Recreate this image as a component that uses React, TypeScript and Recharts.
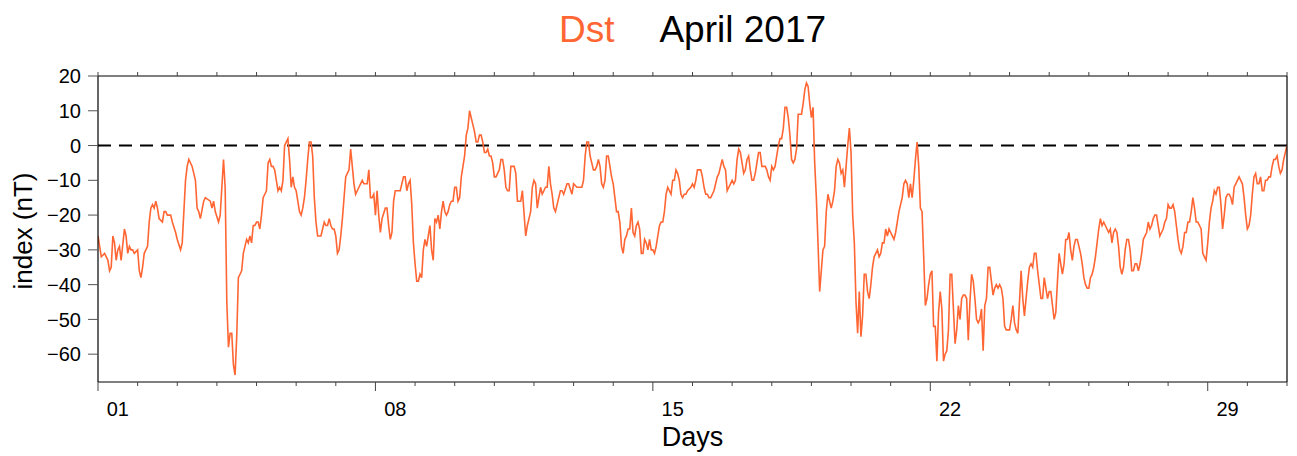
import { LineChart, Line, XAxis, YAxis, ReferenceLine } from 'recharts';

// hourly Dst index, [hours since 1 April 00 UT, nT]
const dstDays01to07: [number, number][] = [
  [0, -26], [2, -32], [4, -31], [6, -33], [7, -36], [8, -35], [9, -26], [10, -28], [11, -33], [12, -30],
  [13, -29], [14, -33], [16, -24], [17, -26], [18, -31], [19, -29], [20, -30], [21, -30], [22, -31], [24, -30],
  [25, -36], [26, -38], [27, -35], [28, -31], [30, -29], [31, -22], [32, -18], [33, -17], [34, -18], [35, -16],
  [36, -18], [37, -21], [39, -22], [40, -19], [41, -19], [42, -20], [44, -20], [45, -22], [47, -25], [48, -27],
  [50, -30], [51, -28], [52, -19], [53, -10], [54, -6], [55, -4], [57, -6], [59, -10], [60, -18], [61, -19],
  [62, -21], [64, -16], [65, -15], [68, -16], [69, -18], [70, -16], [71, -19], [73, -22], [74, -20], [75, -12],
  [76, -4], [77, -12], [78, -45], [79, -58], [80, -54], [81, -54], [82, -63], [83, -66], [84, -55], [85, -38],
  [87, -36], [88, -31], [89, -29], [90, -27], [91, -28], [92, -26], [93, -28], [94, -23], [95, -23], [96, -22],
  [97, -22], [98, -24], [99, -20], [100, -15], [101, -14], [102, -13], [103, -5], [104, -4], [105, -6], [106, -6],
  [107, -7], [108, -10], [109, -13], [110, -12], [111, -13], [112, -10], [113, 0], [114, 1], [115, 2], [116, -4],
  [117, -12], [118, -9], [119, -12], [120, -13], [121, -16], [122, -19], [123, -20], [124, -18], [125, -15], [126, -10],
  [127, -4], [128, 1], [129, 1], [130, -3], [131, -15], [132, -22], [133, -26], [135, -26], [136, -24], [137, -22],
  [138, -23], [139, -23], [140, -21], [141, -23], [142, -24], [143, -24], [144, -26], [145, -31], [146, -30], [147, -26],
  [148, -21], [149, -15], [150, -9], [151, -8], [152, -7], [153, -1], [154, -6], [155, -11], [156, -14], [157, -13],
  [158, -12], [159, -11], [160, -10], [161, -11], [162, -11], [163, -11], [164, -7], [165, -15], [166, -15], [167, -14],
];

const dstDays08to14: [number, number][] = [
  [168, -20], [169, -13], [170, -20], [171, -25], [172, -21], [174, -18], [175, -18], [176, -23], [177, -27], [178, -25],
  [179, -16], [180, -13], [183, -13], [185, -9], [186, -9], [187, -13], [188, -11], [189, -10], [190, -17], [191, -28],
  [192, -34], [193, -39], [194, -39], [195, -37], [196, -38], [197, -30], [198, -27], [199, -29], [200, -26], [201, -23],
  [202, -30], [203, -33], [204, -21], [205, -22], [206, -20], [207, -24], [208, -19], [209, -16], [210, -19], [211, -20],
  [212, -19], [213, -17], [214, -16], [215, -16], [216, -12], [217, -12], [218, -16], [219, -15], [220, -9], [221, -6],
  [222, -3], [223, 3], [224, 5], [225, 10], [226, 8], [227, 6], [228, 4], [229, 1], [230, 1], [231, 3],
  [232, 3], [233, 1], [234, -2], [235, -2], [236, -1], [237, -3], [238, -3], [239, -5], [240, -9], [241, -9],
  [242, -8], [243, -7], [244, -4], [245, -4], [246, -7], [247, -12], [248, -13], [249, -13], [250, -6], [251, -6],
  [252, -6], [253, -8], [254, -16], [255, -16], [256, -16], [257, -13], [259, -26], [260, -23], [261, -21], [262, -19],
  [263, -12], [264, -10], [265, -11], [266, -18], [267, -15], [268, -12], [269, -14], [270, -13], [271, -12], [272, -12],
  [273, -6], [274, -11], [275, -14], [276, -18], [277, -19], [278, -17], [280, -13], [281, -13], [282, -14], [284, -11],
  [285, -11], [287, -14], [288, -11], [290, -12], [292, -12], [293, -12], [294, -10], [295, -3], [296, 1], [297, 1],
  [298, -3], [299, -5], [300, -7], [301, -7], [302, -6], [303, -4], [304, -6], [305, -11], [306, -12], [307, -10],
  [308, -3], [309, -3], [310, -6], [311, -9], [312, -11], [313, -15], [314, -19], [315, -19], [316, -22], [317, -29],
  [318, -31], [319, -27], [320, -26], [321, -24], [322, -24], [323, -18], [324, -25], [325, -26], [326, -23], [327, -22],
  [328, -24], [329, -31], [330, -31], [331, -27], [332, -28], [333, -30], [334, -27], [335, -30],
];

const dstDays15to21: [number, number][] = [
  [336, -30], [337, -31], [338, -29], [339, -26], [340, -23], [341, -22], [342, -22], [343, -19], [344, -14], [345, -12],
  [346, -13], [347, -14], [348, -10], [349, -10], [350, -7], [351, -8], [352, -10], [353, -14], [354, -15], [355, -14],
  [356, -14], [357, -13], [359, -12], [360, -11], [361, -12], [362, -10], [363, -7], [364, -7], [365, -7], [366, -9],
  [367, -12], [368, -14], [369, -14], [370, -15], [371, -15], [372, -14], [373, -13], [374, -11], [375, -9], [376, -8],
  [377, -6], [378, -4], [379, -6], [380, -7], [381, -13], [382, -12], [383, -11], [384, -10], [385, -11], [386, -10],
  [387, -4], [388, -1], [389, -2], [390, -5], [391, -8], [392, -7], [393, -4], [394, -3], [395, -7], [396, -10],
  [397, -10], [398, -8], [399, -5], [400, -2], [401, -2], [402, -6], [404, -6], [405, -7], [406, -9], [407, -10],
  [408, -6], [409, -7], [410, -6], [411, -3], [412, 0], [413, 2], [414, 2], [415, 5], [416, 11], [417, 11],
  [418, 8], [419, 3], [420, -4], [421, -5], [422, -4], [423, -1], [424, 9], [425, 9], [426, 9], [427, 12],
  [428, 16], [429, 18], [430, 17], [431, 12], [432, 8], [433, 11], [434, -5], [435, -15], [436, -28], [437, -42],
  [438, -36], [439, -30], [440, -29], [441, -19], [442, -14], [443, -16], [444, -18], [445, -16], [446, -13], [447, -6],
  [448, -4], [449, -5], [450, -8], [451, -7], [452, -12], [453, -6], [454, 0], [455, 5], [456, -2], [457, -20],
  [458, -28], [459, -45], [460, -54], [461, -42], [462, -55], [463, -49], [464, -37], [465, -37], [466, -42], [467, -44],
  [468, -40], [469, -35], [470, -32], [471, -31], [472, -30], [473, -32], [474, -31], [475, -28], [476, -28], [477, -24],
  [478, -26], [479, -24], [480, -25], [481, -26], [482, -27], [483, -25], [484, -22], [485, -19], [486, -17], [487, -15],
  [488, -11], [489, -10], [490, -11], [491, -15], [492, -11], [493, -15], [494, -10], [495, -4], [496, 1], [497, -6],
  [498, -18], [499, -19], [500, -32], [501, -46], [502, -44], [503, -40],
];

const dstDays22to30: [number, number][] = [
  [504, -37], [505, -36], [506, -52], [507, -52], [508, -62], [509, -48], [510, -42], [511, -47], [512, -62], [513, -60],
  [514, -59], [515, -53], [516, -37], [517, -37], [518, -47], [519, -57], [520, -53], [521, -46], [522, -50], [523, -44],
  [524, -43], [525, -43], [526, -44], [527, -56], [528, -45], [529, -37], [530, -39], [531, -44], [532, -50], [533, -51],
  [534, -50], [535, -47], [536, -59], [537, -46], [538, -44], [539, -35], [540, -35], [541, -39], [542, -43], [543, -41],
  [544, -40], [545, -41], [546, -40], [547, -41], [548, -44], [549, -52], [550, -53], [551, -53], [552, -53], [553, -50],
  [554, -46], [555, -51], [556, -53], [557, -54], [558, -45], [559, -36], [560, -44], [561, -49], [562, -44], [563, -39],
  [564, -35], [565, -34], [566, -35], [567, -31], [568, -31], [569, -36], [570, -40], [571, -44], [572, -44], [573, -38],
  [574, -41], [575, -44], [576, -42], [577, -42], [578, -46], [579, -50], [580, -48], [581, -39], [582, -31], [583, -34],
  [584, -37], [585, -34], [586, -27], [587, -27], [588, -25], [589, -30], [590, -33], [591, -29], [592, -27], [593, -27],
  [594, -29], [595, -31], [596, -34], [597, -38], [598, -40], [599, -41], [600, -41], [601, -38], [602, -37], [603, -35],
  [604, -32], [605, -28], [606, -24], [607, -21], [608, -23], [609, -22], [610, -23], [611, -24], [612, -25], [613, -24],
  [614, -28], [615, -25], [616, -24], [617, -25], [618, -29], [619, -35], [620, -37], [621, -35], [622, -30], [623, -27],
  [624, -27], [625, -30], [626, -36], [627, -36], [628, -34], [629, -34], [630, -36], [631, -34], [632, -31], [633, -27],
  [634, -26], [635, -25], [636, -22], [637, -24], [638, -23], [639, -21], [640, -20], [641, -20], [642, -23], [643, -26],
  [644, -25], [645, -24], [646, -22], [647, -21], [648, -17], [649, -18], [650, -18], [651, -17], [652, -19], [653, -23],
  [654, -27], [655, -30], [656, -31], [657, -29], [658, -25], [659, -25], [660, -22], [661, -22], [662, -19], [663, -15],
  [664, -18], [665, -22], [666, -22], [667, -23], [668, -24], [669, -31], [670, -32], [671, -33], [672, -28], [673, -22],
  [674, -18], [675, -16], [676, -13], [677, -14], [678, -12], [679, -12], [680, -17], [681, -24], [682, -20], [683, -15],
  [684, -14], [685, -14], [686, -15], [687, -17], [688, -12], [689, -11], [690, -10], [691, -9], [692, -10], [693, -11],
  [694, -15], [695, -20], [696, -24], [697, -23], [698, -20], [699, -14], [700, -9], [701, -8], [702, -11], [703, -11],
  [704, -9], [705, -13], [706, -13], [707, -10], [708, -10], [709, -9], [710, -9], [711, -6], [712, -4], [713, -4],
  [714, -3], [715, -6], [716, -8], [717, -7], [718, -4], [719, -2], [720, 0],
];

const yTicks = [-60, -50, -40, -30, -20, -10, 0, 10, 20];
const labelledDays = [1, 8, 15, 22, 29];
const dayLabels = ['01', '08', '15', '22', '29'];
const dayStarts = Array.from({ length: 31 }, (_, i) => i * 24);

const W = 1297;
const H = 456;
const MARGIN = { top: 75, right: 0, bottom: 34, left: 38 };
const LEFT_AXIS_W = 60;
const RIGHT_AXIS_W = 10;
const plotW = W - MARGIN.left - MARGIN.right - LEFT_AXIS_W - RIGHT_AXIS_W;
const halfDay = plotW / 30 / 2;

const FONT = '"Liberation Sans", Arial, Helvetica, sans-serif';
const ORANGE = '#ff6633';

const data = [...dstDays01to07, ...dstDays08to14, ...dstDays15to21, ...dstDays22to30].map(
  ([hour, dst]) => ({ hour, dst })
);

const minus = (v: number) => (v < 0 ? `\u2212${-v}` : `${v}`);

const BottomTick = (props: any) => {
  const { x, y, payload } = props;
  const idx = labelledDays.indexOf(payload.value / 24 + 1);
  const major = idx >= 0;
  return (
    <g>
      <line x1={x} x2={x} y1={y} y2={y + (major ? 9 : 4)} stroke="#444" strokeWidth={1} />
      {major && (
        <text x={x + halfDay} y={y + 34} textAnchor="middle" fontSize={20} fontFamily={FONT} fill="#000">
          {dayLabels[idx]}
        </text>
      )}
    </g>
  );
};

const TopTick = (props: any) => {
  const { x, y } = props;
  return <line x1={x} x2={x} y1={y} y2={y - 4} stroke="#444" strokeWidth={1} />;
};

export default function App() {
  return (
    <div style={{ position: 'absolute', left: 0, top: 0, width: W, height: H, background: '#fff', fontFamily: FONT }}>
      <div
        style={{
          position: 'absolute',
          top: 11,
          left: MARGIN.left + LEFT_AXIS_W,
          width: plotW,
          textAlign: 'center',
          fontSize: 37,
          lineHeight: '37px',
          whiteSpace: 'nowrap',
        }}
      >
        <span style={{ color: ORANGE }}>Dst</span>
        <span style={{ color: '#000', marginLeft: 45 }}>April 2017</span>
      </div>
      <div
        style={{
          position: 'absolute',
          left: 23,
          top: 231,
          transform: 'translate(-50%, -50%) rotate(-90deg)',
          fontSize: 26,
          lineHeight: '26px',
          whiteSpace: 'nowrap',
        }}
      >
        index (nT)
      </div>
      <div
        style={{
          position: 'absolute',
          top: 424,
          left: MARGIN.left + LEFT_AXIS_W,
          width: plotW,
          textAlign: 'center',
          fontSize: 27,
          lineHeight: '27px',
        }}
      >
        Days
      </div>
      <LineChart width={W} height={H} data={data} margin={MARGIN}>
        <XAxis
          xAxisId="bottom"
          dataKey="hour"
          type="number"
          domain={[0, 720]}
          ticks={dayStarts}
          interval={0}
          orientation="bottom"
          height={40}
          tickLine={false}
          tickSize={0}
          tickMargin={0}
          tick={(p: any) => <BottomTick {...p} />}
          axisLine={{ stroke: '#000', strokeWidth: 1.2 }}
          allowDataOverflow
        />
        <XAxis
          xAxisId="top"
          dataKey="hour"
          type="number"
          domain={[0, 720]}
          ticks={dayStarts}
          interval={0}
          orientation="top"
          height={1}
          tickLine={false}
          tickSize={0}
          tickMargin={0}
          tick={(p: any) => <TopTick {...p} />}
          axisLine={{ stroke: '#000', strokeWidth: 1.2 }}
          allowDataOverflow
        />
        <YAxis
          yAxisId="left"
          type="number"
          domain={[-68, 20]}
          ticks={yTicks}
          interval={0}
          width={LEFT_AXIS_W}
          tickSize={10}
          tickMargin={7}
          tickFormatter={minus}
          tick={{ fontSize: 20, fill: '#000', fontFamily: FONT }}
          tickLine={{ stroke: '#555' }}
          axisLine={{ stroke: '#000', strokeWidth: 1.2 }}
          allowDataOverflow
        />
        <YAxis
          yAxisId="right"
          orientation="right"
          type="number"
          domain={[-68, 20]}
          ticks={yTicks}
          interval={0}
          width={RIGHT_AXIS_W}
          tickSize={9}
          tick={false}
          tickLine={{ stroke: '#555' }}
          axisLine={{ stroke: '#000', strokeWidth: 1.2 }}
          allowDataOverflow
        />
        <ReferenceLine
          xAxisId="bottom"
          yAxisId="left"
          y={0}
          stroke="#000"
          strokeWidth={2}
          strokeDasharray="13 8"
        />
        <Line
          xAxisId="bottom"
          yAxisId="left"
          type="linear"
          dataKey="dst"
          stroke={ORANGE}
          strokeWidth={1.6}
          dot={false}
          isAnimationActive={false}
        />
      </LineChart>
    </div>
  );
}
